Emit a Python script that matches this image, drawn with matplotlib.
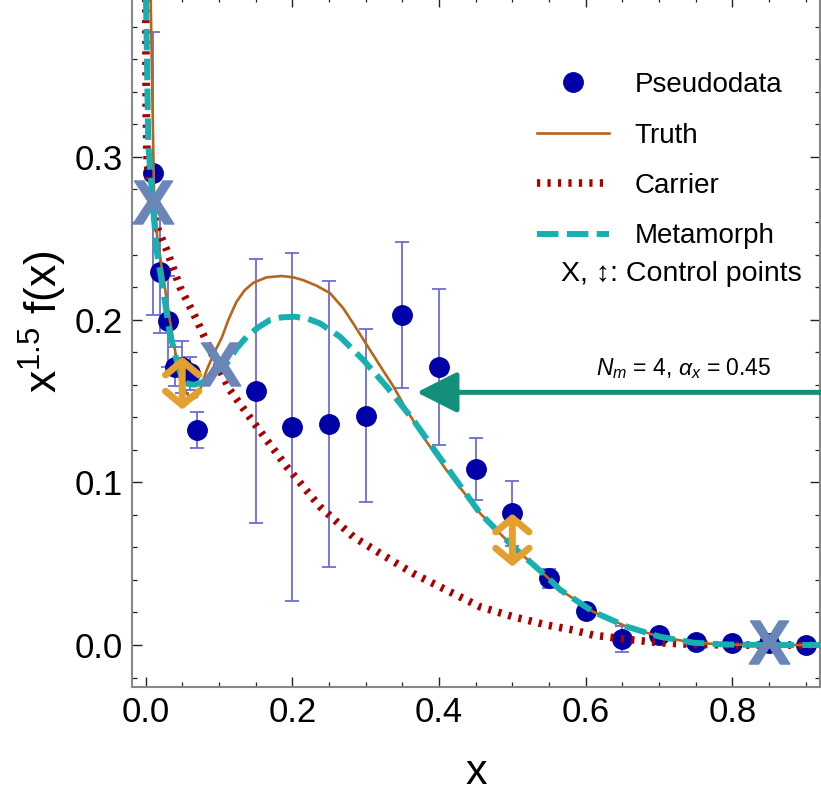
import numpy as np
import matplotlib
matplotlib.use("Agg")
import matplotlib.pyplot as plt
from matplotlib.ticker import MultipleLocator, FormatStrFormatter

plt.rcParams['font.family'] = ['Liberation Sans', 'DejaVu Sans']
plt.rcParams['mathtext.fontset'] = 'custom'
plt.rcParams['mathtext.rm'] = 'Liberation Sans'
plt.rcParams['mathtext.it'] = 'Liberation Sans:italic'
plt.rcParams['mathtext.bf'] = 'Liberation Sans:bold'

# pseudodata with errors
x_data = [0.01, 0.02, 0.03, 0.04, 0.05, 0.06, 0.07, 0.15, 0.20, 0.25, 0.30, 0.35,
          0.40, 0.45, 0.50, 0.55, 0.60, 0.65, 0.70, 0.75, 0.80, 0.85, 0.90]
y_data = [0.290, 0.229, 0.199, 0.171, 0.171, 0.167, 0.132, 0.156, 0.134, 0.136, 0.141, 0.203,
          0.171, 0.108, 0.081, 0.041, 0.021, 0.004, 0.006, 0.002, 0.001, 0.001, 0.000]
y_err = [0.087, 0.037, 0.028, 0.012, 0.016, 0.010, 0.011, 0.081, 0.107, 0.088, 0.053, 0.045,
         0.048, 0.019, 0.020, 0.006, 0.004, 0.008, 0.003, 0.002, 0.001, 0.001, 0.001]

# curves
x_truth = [0.005, 0.007, 0.009, 0.0115, 0.016, 0.022, 0.033, 0.047, 0.054, 0.060, 0.065,
           0.0697, 0.076, 0.0833, 0.094, 0.104, 0.113, 0.124, 0.135, 0.147, 0.165, 0.1855,
           0.2014, 0.2147, 0.2333, 0.2514, 0.2695, 0.283, 0.306, 0.322, 0.338, 0.356, 0.38,
           0.41, 0.456, 0.501, 0.547, 0.565, 0.61, 0.656, 0.701, 0.747, 0.79, 0.85, 0.93]
y_truth = [0.44, 0.396, 0.344, 0.279, 0.25, 0.2325, 0.20, 0.163, 0.156, 0.1525, 0.1515,
           0.1525, 0.159, 0.169, 0.180, 0.189, 0.200, 0.211, 0.218, 0.2227, 0.226, 0.2268,
           0.226, 0.2243, 0.2208, 0.2163, 0.207, 0.1977, 0.1813, 0.170, 0.1588, 0.1444, 0.127,
           0.1076, 0.081, 0.0604, 0.042, 0.034, 0.0205, 0.0113, 0.0051, 0.0014,
           0.0003, 0.0, 0.0]

x_carrier = [0.0002, 0.0008, 0.002, 0.005, 0.01, 0.0173, 0.0288, 0.0469, 0.0697, 0.0923,
             0.115, 0.142, 0.1924, 0.2378, 0.283, 0.3195, 0.365, 0.41, 0.456, 0.501, 0.547,
             0.583, 0.61, 0.656, 0.701, 0.747, 0.80, 0.93]
y_carrier = [0.40, 0.33, 0.30, 0.28, 0.266, 0.255, 0.2428, 0.220, 0.1998, 0.1772,
             0.1567, 0.140, 0.1096, 0.085, 0.0666, 0.0564, 0.044, 0.0338, 0.0235, 0.0174, 0.0123,
             0.0092, 0.0061, 0.0035, 0.0014, 0.0004, 0.0, 0.0]

x_meta = [0.0005, 0.0037, 0.0083, 0.0105, 0.015, 0.024, 0.033, 0.0446, 0.051, 0.058,
          0.066, 0.0765, 0.09, 0.10, 0.1105, 0.124, 0.138, 0.1537, 0.1696, 0.1855, 0.2037,
          0.2218, 0.2378, 0.265, 0.2968, 0.3287, 0.365, 0.397, 0.456, 0.501, 0.547, 0.565,
          0.61, 0.656, 0.701, 0.747, 0.79, 0.85, 0.93]
y_meta = [0.40, 0.308, 0.28, 0.268, 0.243, 0.218, 0.1916, 0.171, 0.1625, 0.1605,
          0.160, 0.1612, 0.1655, 0.169, 0.173, 0.1823, 0.1895, 0.1953, 0.1998, 0.2014, 0.2018,
          0.2004, 0.1977, 0.1895, 0.1752, 0.1588, 0.1383, 0.1178, 0.081, 0.0604, 0.042, 0.034,
          0.0205, 0.0113, 0.0051, 0.0014, 0.0003, 0.0, 0.0]

# control points
ctrl_x = [0.0105, 0.101, 0.85]
ctrl_y = [0.2725, 0.173, 0.002]
shift_x = [0.05, 0.50]
shift_y = [0.161, 0.0645]

fig = plt.figure(figsize=(8.21, 7.94), dpi=100)
ax = fig.add_axes([132/821, 107/794, 688/821, 690/794])

ax.errorbar(x_data, y_data, yerr=y_err, fmt='none', ecolor='#6C6CD9', elinewidth=1.3,
            capsize=5, capthick=1.3, zorder=2)
ax.plot(x_data, y_data, 'o', color='#0000A8', ms=14, zorder=3, label='Pseudodata')
ax.plot(x_truth, y_truth, '-', color='#B8651B', lw=1.9, zorder=5, label='Truth')
ax.plot(x_carrier, y_carrier, color='#AA0000', lw=5.5, dashes=(0.42, 0.95), zorder=4,
        label='Carrier')
ax.plot(x_meta, y_meta, color='#16B0B0', lw=4.3, dashes=(3.6, 1.4), zorder=6,
        label='Metamorph')

for cx, cy in zip(shift_x, shift_y):
    ax.annotate('', xy=(cx, cy + 0.0163), xytext=(cx, cy - 0.0163),
                arrowprops=dict(arrowstyle='<->,head_length=1.0,head_width=1.2',
                                mutation_scale=10, lw=5, color='#E3A02E',
                                shrinkA=0, shrinkB=0), zorder=7)
ax.plot(ctrl_x, ctrl_y, ls='none', marker=r'$\mathbf{X}$', ms=31, color='#6A86B8', zorder=8)

ax.annotate('', xy=(0.3696, 0.1553), xytext=(0.93, 0.1553), annotation_clip=False,
            arrowprops=dict(arrowstyle='-|>,head_length=1.25,head_width=0.63',
                            mutation_scale=20, lw=3.6, color='#13907A',
                            shrinkA=0, shrinkB=0), zorder=9)
ax.text(0.733, 0.170, r'$N_m$ = 4, $\alpha_x$ = 0.45', fontsize=16.5, ha='center', va='center')

ax.legend(loc='upper left', bbox_to_anchor=(526/821, 1 - 61/794), bbox_transform=fig.transFigure,
          frameon=False, fontsize=20, handlelength=2.6, handletextpad=0.9, labelspacing=0.88,
          borderaxespad=0, borderpad=0.4)
ax.text(0.798, 0.598, 'X, \u2195: Control points', fontsize=20.5, ha='center', va='center',
        transform=ax.transAxes)

ax.set_xlim(-0.0185, 0.9194)
ax.set_ylim(-0.0258, 0.3983)
ax.xaxis.set_major_locator(MultipleLocator(0.2))
ax.xaxis.set_minor_locator(MultipleLocator(0.05))
ax.yaxis.set_major_locator(MultipleLocator(0.1))
ax.yaxis.set_minor_locator(MultipleLocator(0.02))
ax.xaxis.set_major_formatter(FormatStrFormatter('%.1f'))
ax.yaxis.set_major_formatter(FormatStrFormatter('%.1f'))
ax.tick_params(which='both', direction='in', top=True, right=True, color='#222222',
               labelsize=25, pad=6.5)
ax.tick_params(which='major', length=7, width=1)
ax.tick_params(which='minor', length=3.6, width=0.9)
for sp in ax.spines.values():
    sp.set_color('#888888')
    sp.set_linewidth(1.5)

ax.set_xlabel('x', fontsize=31)
ax.xaxis.set_label_coords(0.5, -0.096)
ax.set_ylabel(r'x$^{1.5}$ f(x)', fontsize=32)
ax.yaxis.set_label_coords(-0.092, 0.529)

fig.savefig('out.png', dpi=100)
